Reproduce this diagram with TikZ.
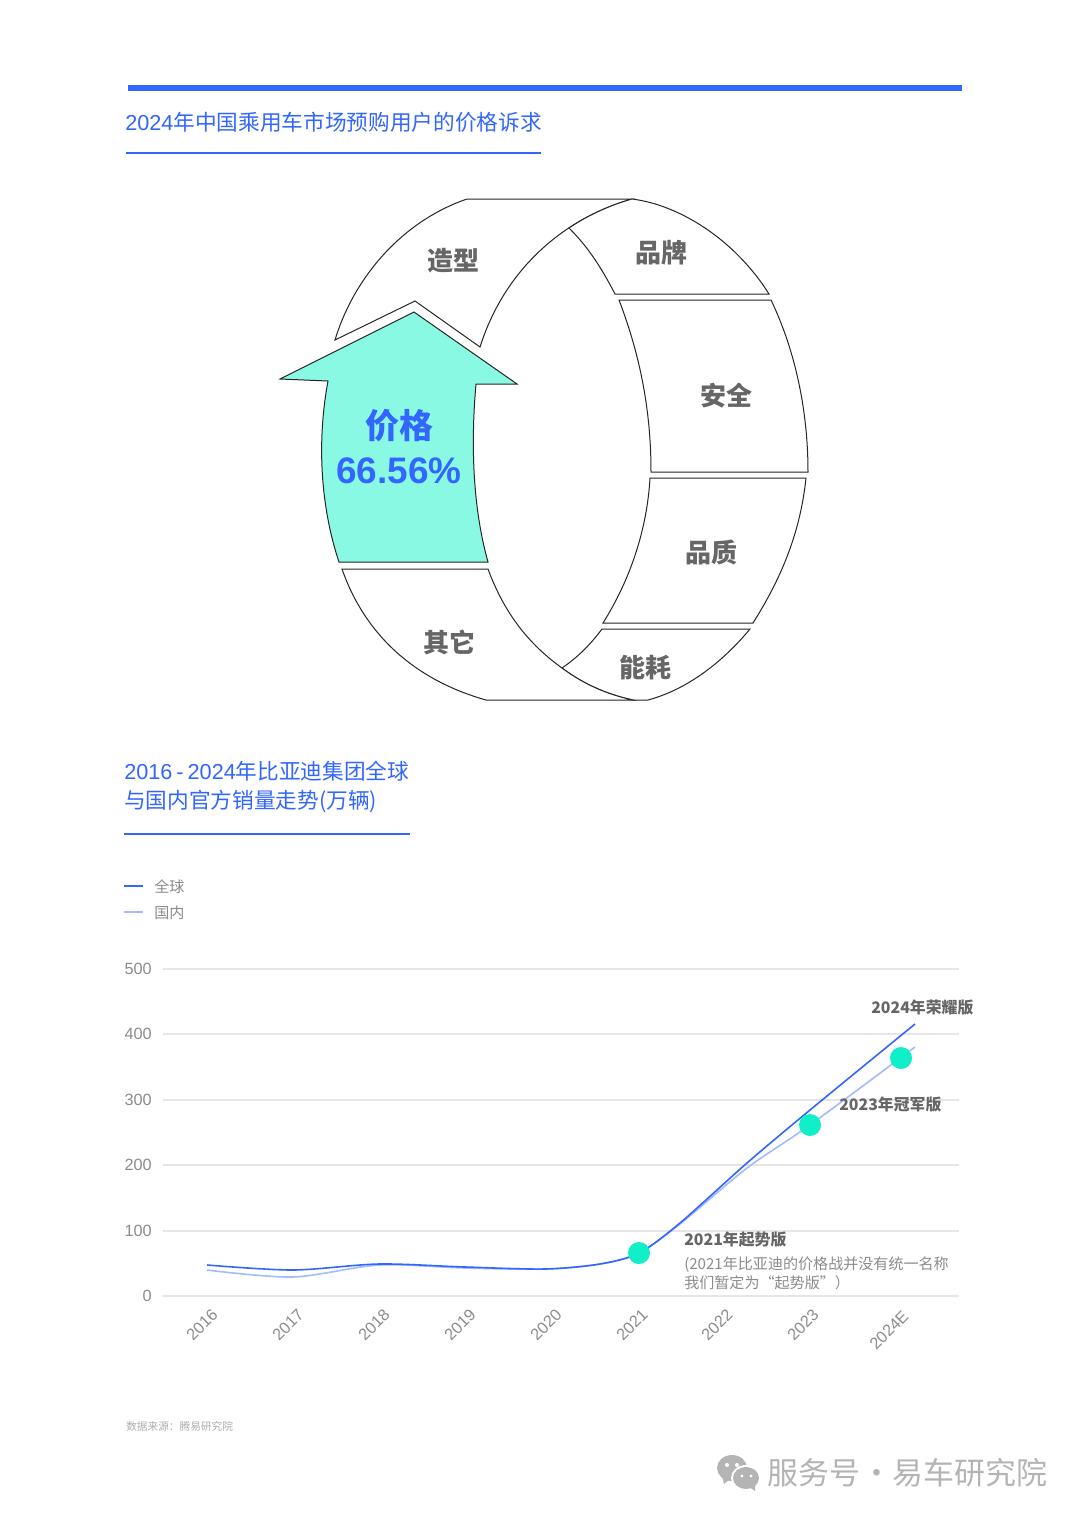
\documentclass[tikz,border=0pt]{standalone}
\usepackage{fontspec}
\usetikzlibrary{positioning}
\setmainfont{Noto Sans CJK SC}
\newfontfamily\latinfont{Liberation Sans}
\definecolor{barblue}{HTML}{3366FF}
\definecolor{paleblue}{HTML}{A3BBFF}
\definecolor{mint}{HTML}{8AF9E4}
\definecolor{dotmint}{HTML}{10EFC8}
\definecolor{gridgrey}{HTML}{E6E6E6}
\definecolor{labelgrey}{HTML}{666666}
\definecolor{axisgrey}{HTML}{8C8C8C}
\definecolor{markgrey}{HTML}{B4B4B4}
\begin{document}
\begin{tikzpicture}
    [
    x=0.75pt, y=-0.75pt,
    segment/.style={draw=black!85,line width=0.75pt,fill=white,line join=miter},
    title/.style={inner sep=0pt,anchor=west,text=barblue,font=\fontsize{16.25}{20}\selectfont},
    rule/.style={draw=barblue,line width=1.5pt},
    part/.style={inner sep=0pt,text=labelgrey,font=\bfseries\fontsize{19.5}{22}\selectfont},
    grid/.style={draw=gridgrey,line width=0.9pt},
    ytick/.style={inner sep=0pt,anchor=east,text=axisgrey,font=\latinfont\fontsize{12.2}{14}\selectfont},
    xtick/.style={inner sep=0pt,rotate=45,text=axisgrey,font=\latinfont\fontsize{12.2}{14}\selectfont},
    legend/.style={inner sep=0pt,anchor=west,text=axisgrey,font=\fontsize{11.3}{13}\selectfont},
    dot/.style={circle,fill=dotmint,inner sep=0pt,minimum size=16.5pt},
    edition/.style={inner sep=0pt,anchor=west,text=labelgrey,font=\bfseries\fontsize{11.9}{15}\selectfont},
    note/.style={inner sep=0pt,anchor=west,text=axisgrey,font=\fontsize{11.3}{13}\selectfont}
    ]
    \useasboundingbox [fill=white] (0,0) rectangle (1080,1517);

    \fill [barblue] (128,85) rectangle (962,91);
    \node (title1) at (125,122) [title] {{\latinfont 2024}年中国乘用车市场预购用户的价格诉求};
    \draw [rule] (126,152.5) to (541,152.5);

    \draw [segment] (467,199) -- (632,199) .. controls (565,218) and (505,268) .. (480,347)
      -- (415,301) -- (335,340) .. controls (353,280) and (400,222) .. (467,199) -- cycle;
    \draw [segment] (632,199) .. controls (680,205) and (735,240) .. (769,294) -- (615,294)
      .. controls (600,265) and (587,246) .. (569,228) .. controls (588.5,214.9) and (609.9,205.3) .. (632,199) -- cycle;
    \draw [segment] (619,300) -- (771,300) .. controls (795,350) and (808,410) .. (808,472) -- (651,472)
      .. controls (651,410) and (640,355) .. (619,300) -- cycle;
    \draw [segment] (650,478) -- (806,478) .. controls (800,535) and (780,580) .. (753,623) -- (603,623)
      .. controls (630,580) and (647,530) .. (650,478) -- cycle;
    \draw [segment] (602,629) -- (750,629) .. controls (720,665) and (685,690) .. (648,700) -- (633,700)
      .. controls (605,694) and (582,683) .. (562,668) .. controls (578,657) and (590,645) .. (602,629) -- cycle;
    \draw [segment] (342,569) -- (488,569) .. controls (505,615) and (530,645) .. (562,668)
      .. controls (582,683) and (605,694) .. (633,700) -- (486,700)
      .. controls (415,680) and (365,635) .. (342,569) -- cycle;
    \draw [segment,fill=mint] (414,312) -- (517,384) -- (476,384) .. controls (471,440) and (472,505) .. (488,562)
      -- (339,562) .. controls (320,505) and (317,440) .. (328,381) -- (280,379) -- cycle;

    \node (shape) at (453,261) [part] {造型};
    \node (brand) at (661,253) [part] {品牌};
    \node (safety) at (726,396) [part] {安全};
    \node (quality) at (711,552) [part] {品质};
    \node (energy) at (645,668) [part] {能耗};
    \node (other) at (449,642) [part] {其它};
    \node (price) at (399,426) [inner sep=0pt,text=barblue,font=\bfseries\fontsize{25.5}{28}\selectfont] {价格};
    \node (share) [below=11pt of price,inner sep=0pt,text=barblue,font=\latinfont\bfseries\fontsize{27.7}{30}\selectfont] {66.56\%};

    \node (title2) at (124,771) [title] {{\latinfont 2016\hspace{3pt}-\hspace{3pt}2024}年比亚迪集团全球};
    \node (title3) at (124,801) [title] {与国内官方销量走势(万辆)};
    \draw [rule] (124,833.5) to (410,833.5);

    \draw [draw=barblue,line width=1pt] (124,886) to (143,886);
    \draw [draw=paleblue,line width=1pt] (124,912) to (143,912);
    \node (global) at (154,887) [legend] {全球};
    \node (domestic) at (154,913) [legend] {国内};

    \draw [grid] (163,969) to (959,969);
    \draw [grid] (163,1034) to (959,1034);
    \draw [grid] (163,1100) to (959,1100);
    \draw [grid] (163,1165) to (959,1165);
    \draw [grid] (163,1231) to (959,1231);
    \draw [grid] (163,1296) to (959,1296);
    \node (y500) at (152,969) [ytick] {500};
    \node (y400) at (152,1034) [ytick] {400};
    \node (y300) at (152,1100) [ytick] {300};
    \node (y200) at (152,1165) [ytick] {200};
    \node (y100) at (152,1231) [ytick] {100};
    \node (y0) at (152,1296) [ytick] {0};
    \node (x2016) at (202,1325) [xtick] {2016};
    \node (x2017) at (288,1325) [xtick] {2017};
    \node (x2018) at (374,1325) [xtick] {2018};
    \node (x2019) at (460,1325) [xtick] {2019};
    \node (x2020) at (546,1325) [xtick] {2020};
    \node (x2021) at (632,1325) [xtick] {2021};
    \node (x2022) at (717,1325) [xtick] {2022};
    \node (x2023) at (803,1325) [xtick] {2023};
    \node (x2024) at (889,1330) [xtick] {2024E};

    \draw [draw=paleblue,line width=1.2pt] plot [smooth,tension=0.5] coordinates
      {(207,1270) (293,1277) (379,1265) (465,1268) (545,1269) (600,1264) (639,1253) (680,1224) (747,1168) (810,1125) (915,1047)};
    \draw [draw=barblue,line width=1.2pt] plot [smooth,tension=0.5] coordinates
      {(207,1265) (293,1270) (379,1264) (465,1267) (545,1269) (600,1264) (639,1253) (680,1223) (747,1163) (810,1110) (915,1024)};
    \node (d2021) at (639,1253) [dot] {};
    \node (d2023) at (810,1125) [dot] {};
    \node (d2024) at (901,1058) [dot] {};

    \node (e2024) at (871,1008) [edition] {2024年荣耀版};
    \node (e2023) at (839,1105) [edition] {2023年冠军版};
    \node (e2021) at (684,1240) [edition] {2021年起势版};
    \node (n1) at (684,1265) [note] {(2021年比亚迪的价格战并没有统一名称};
    \node (n2) at (684,1283) [note] {我们暂定为“起势版”）};

    \node (source) at (126,1426) [inner sep=0pt,anchor=west,text=axisgrey!70,font=\fontsize{8}{10}\selectfont] {数据来源：腾易研究院};

    \fill [markgrey] (732,1468) ellipse (15 and 13);
    \fill [markgrey] (722,1476) -- (730,1479) -- (724,1484) -- cycle;
    \fill [white] (746,1478) ellipse (15 and 13);
    \fill [markgrey] (746,1478) ellipse (13 and 11);
    \fill [markgrey] (749,1487) -- (755,1491) -- (755,1484) -- cycle;
    \fill [white] (727,1465) circle (2);
    \fill [white] (737,1465) circle (2);
    \fill [white] (742,1476) circle (1.6);
    \fill [white] (751,1476) circle (1.6);
    \node (mark) at (767,1473) [inner sep=0pt,anchor=west,text=markgrey,font=\fontsize{23.2}{26}\selectfont] {服务号\hspace{-4.5pt} · \hspace{-4.5pt}易车研究院};
\end{tikzpicture}
\end{document}
